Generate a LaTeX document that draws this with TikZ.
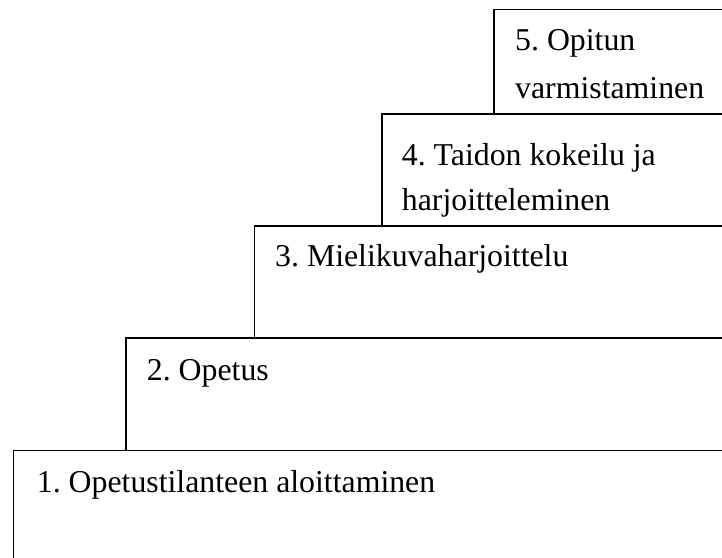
\documentclass[tikz,border=0pt]{standalone}
\usepackage{fontspec}
\setmainfont{Liberation Serif}
\begin{document}
\frenchspacing
\begin{tikzpicture}[x=1pt,y=-1pt,
  stair/.style={draw=black,line width=1.8pt,fill=white},
  label/.style={anchor=base west,inner sep=0pt,font=\fontsize{31.8}{38}\selectfont}]
\useasboundingbox (0,0) rectangle (722,557);
\clip (0,0) rectangle (722,557);
% steps (drawn from top to bottom so each lower step covers the one above)
\draw[stair] (494,9.5) rectangle (760,600);
\draw[stair] (382,114) rectangle (760,600);
\draw[stair] (254.5,225.7) rectangle (760,600);
\draw[stair] (126,338) rectangle (760,600);
\draw[stair] (13.5,450.5) rectangle (760,600);
% labels
\node[label] (s5a) at (515,50) {5. Opitun};
\node[label] (s5b) at (515,98.3) {varmistaminen};
\node[label] (s4a) at (401.7,165) {4. Taidon kokeilu ja};
\node[label] (s4b) at (401.7,210) {harjoitteleminen};
\node[label] (s3) at (275,266.7) {3. Mielikuvaharjoittelu};
\node[label] (s2) at (146.7,380) {2. Opetus};
\node[label] (s1) at (36.7,492) {1. Opetustilanteen aloittaminen};
\end{tikzpicture}
\end{document}
